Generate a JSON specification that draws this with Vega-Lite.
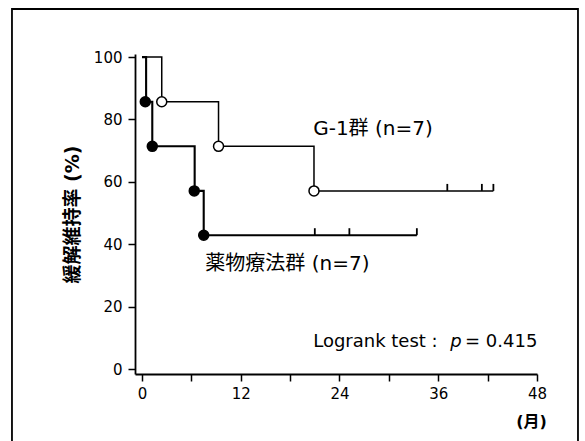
{
  "$schema": "https://vega.github.io/schema/vega-lite/v6.json",
  "width": 402,
  "height": 320,
  "autosize": {"type": "none"},
  "padding": {"left": 135, "top": 54, "right": 48, "bottom": 67},
  "background": "white",
  "config": {
    "view": {"stroke": null},
    "font": "DejaVu Sans, Noto Sans CJK JP",
    "axis": {
      "grid": false,
      "domainColor": "black",
      "domainWidth": 1.8,
      "tickColor": "black",
      "tickWidth": 1.5,
      "tickSize": 7,
      "labelColor": "black",
      "labelFont": "DejaVu Sans",
      "labelFontSize": 15,
      "labelFlush": false,
      "labelOverlap": false,
      "titleColor": "black",
      "titleFont": "DejaVu Sans, Noto Sans CJK JP",
      "titleFontWeight": "bold"
    }
  },
  "datasets": {
    "curves": [
      {"group": "G-1群", "t": 0, "s": 100},
      {"group": "G-1群", "t": 2.4, "s": 85.7},
      {"group": "G-1群", "t": 9.3, "s": 71.4},
      {"group": "G-1群", "t": 20.9, "s": 57.1},
      {"group": "G-1群", "t": 42.7, "s": 57.1},
      {"group": "薬物療法群", "t": 0, "s": 100},
      {"group": "薬物療法群", "t": 0.5, "s": 85.7},
      {"group": "薬物療法群", "t": 1.25, "s": 71.4},
      {"group": "薬物療法群", "t": 6.4, "s": 57.1},
      {"group": "薬物療法群", "t": 7.5, "s": 42.9},
      {"group": "薬物療法群", "t": 33.4, "s": 42.9}
    ],
    "events": [
      {"group": "G-1群", "t": 2.4, "s": 85.7},
      {"group": "G-1群", "t": 9.3, "s": 71.4},
      {"group": "G-1群", "t": 20.9, "s": 57.1},
      {"group": "薬物療法群", "t": 0.4, "s": 85.7},
      {"group": "薬物療法群", "t": 1.25, "s": 71.4},
      {"group": "薬物療法群", "t": 6.35, "s": 57.1},
      {"group": "薬物療法群", "t": 7.5, "s": 42.9}
    ],
    "censor": [
      {"group": "G-1群", "t": 37.1, "s": 57.1},
      {"group": "G-1群", "t": 41.3, "s": 57.1},
      {"group": "G-1群", "t": 42.7, "s": 57.1},
      {"group": "薬物療法群", "t": 21.0, "s": 42.9},
      {"group": "薬物療法群", "t": 25.2, "s": 42.9},
      {"group": "薬物療法群", "t": 33.4, "s": 42.9}
    ],
    "groupLabels": [
      {"label": "G-1群 (n=7)", "t": 20.8, "s": 75.0},
      {"label": "薬物療法群 (n=7)", "t": 7.7, "s": 31.8}
    ],
    "testLabel": [
      {"label": "Logrank test :", "t": 20.8, "s": 7.15},
      {"label": "= 0.415", "t": 39.25, "s": 7.15}
    ],
    "testP": [
      {"label": "p", "t": 37.45, "s": 7.15}
    ]
  },
  "layer": [
    {
      "data": {"values": [{"frame": "border"}]},
      "mark": {"type": "rect", "fill": null, "fillOpacity": 0, "stroke": "black", "strokeWidth": 1.8, "clip": false},
      "encoding": {
        "x": {"datum": -15.8, "type": "quantitative", "scale": {"domain": [-0.85, 48], "nice": false, "zero": false}},
        "x2": {"datum": 52.98},
        "y": {"datum": 115.43, "type": "quantitative", "scale": {"domain": [-1.6, 101], "nice": false, "zero": false}},
        "y2": {"datum": -24.7}
      }
    },
    {
      "data": {"name": "curves"},
      "mark": {"type": "line", "interpolate": "step-after", "color": "black", "opacity": 1},
      "encoding": {
        "x": {
          "field": "t", "type": "quantitative",
          "axis": {
            "values": [0, 6, 12, 18, 24, 30, 36, 42, 48],
            "labelExpr": "datum.value % 12 === 0 ? datum.label : ''",
            "labelPadding": 5,
            "title": "(月)",
            "titleFontSize": 16,
            "titleX": 396,
            "titleAlign": "center",
            "titlePadding": 12
          }
        },
        "y": {
          "field": "s", "type": "quantitative",
          "axis": {
            "values": [0, 10, 20, 30, 40, 50, 60, 70, 80, 90, 100],
            "labelExpr": "datum.value % 20 === 0 ? datum.label : ''",
            "labelPadding": 6,
            "title": "緩解維持率 (%)",
            "titleFontSize": 19,
            "titlePadding": 11
          }
        },
        "detail": {"field": "group"},
        "strokeWidth": {"field": "group", "scale": {"domain": ["G-1群", "薬物療法群"], "range": [1.5, 2.1]}, "legend": null}
      }
    },
    {
      "data": {"name": "censor"},
      "mark": {"type": "tick", "orient": "vertical", "size": 7, "thickness": 1.8, "yOffset": -3.5, "color": "black", "opacity": 1},
      "encoding": {
        "x": {"field": "t", "type": "quantitative"},
        "y": {"field": "s", "type": "quantitative"}
      }
    },
    {
      "data": {"name": "events"},
      "mark": {"type": "point", "shape": "circle", "filled": true, "size": 100, "stroke": "black", "strokeWidth": 1.5, "opacity": 1},
      "encoding": {
        "x": {"field": "t", "type": "quantitative"},
        "y": {"field": "s", "type": "quantitative"},
        "fill": {"field": "group", "type": "nominal", "scale": {"domain": ["G-1群", "薬物療法群"], "range": ["white", "black"]}, "legend": null}
      }
    },
    {
      "data": {"name": "groupLabels"},
      "mark": {"type": "text", "align": "left", "baseline": "alphabetic", "fontSize": 20, "color": "black", "font": "DejaVu Sans, Noto Sans CJK JP"},
      "encoding": {
        "x": {"field": "t", "type": "quantitative"},
        "y": {"field": "s", "type": "quantitative"},
        "text": {"field": "label"}
      }
    },
    {
      "data": {"name": "testLabel"},
      "mark": {"type": "text", "align": "left", "baseline": "alphabetic", "fontSize": 18, "color": "black", "font": "DejaVu Sans"},
      "encoding": {
        "x": {"field": "t", "type": "quantitative"},
        "y": {"field": "s", "type": "quantitative"},
        "text": {"field": "label"}
      }
    },
    {
      "data": {"name": "testP"},
      "mark": {"type": "text", "align": "left", "baseline": "alphabetic", "fontSize": 18, "fontStyle": "italic", "color": "black", "font": "DejaVu Sans"},
      "encoding": {
        "x": {"field": "t", "type": "quantitative"},
        "y": {"field": "s", "type": "quantitative"},
        "text": {"field": "label"}
      }
    }
  ]
}
